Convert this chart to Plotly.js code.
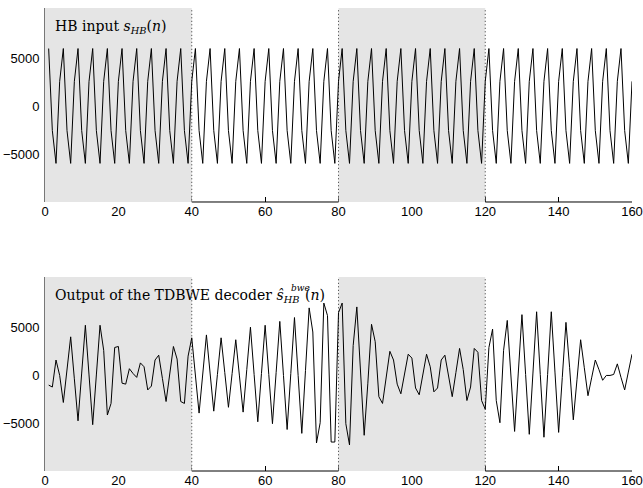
<!DOCTYPE html>
<html>
<head>
<meta charset="utf-8">
<script src="https://cdn.plot.ly/plotly-3.0.1.min.js"></script>
<style>html,body{margin:0;padding:0;background:#fff;}#chart{width:643px;height:488px;}</style>
</head>
<body>
<div id="chart"></div>
<script>
// HB input s_HB(n), n = 1..160
const inputHB = [
  6000,-2500,-5900,2600, 6000,-2500,-5900,2600, 6000,-2500,-5900,2600, 6000,-2500,-5900,2600, 6000,-2500,-5900,2600,
  6000,-2500,-5900,2600, 6000,-2500,-5900,2600, 6000,-2500,-5900,2600, 6000,-2500,-5900,2600, 6000,-2500,-5900,2600,
  6000,-2500,-5900,2600, 6000,-2500,-5900,2600, 6000,-2500,-5900,2600, 6000,-2500,-5900,2600, 6000,-2500,-5900,2600,
  6000,-2500,-5900,2600, 6000,-2500,-5900,2600, 6000,-2500,-5900,2600, 6000,-2500,-5900,2600, 6000,-2500,-5900,2600,
  6000,-2500,-5900,2600, 6000,-2500,-5900,2600, 6000,-2500,-5900,2600, 6000,-2500,-5900,2600, 6000,-2500,-5900,2600,
  6000,-2500,-5900,2600, 6000,-2500,-5900,2600, 6000,-2500,-5900,2600, 6000,-2500,-5900,2600, 6000,-2500,-5900,2600,
  6000,-2500,-5900,2600, 6000,-2500,-5900,2600, 6000,-2500,-5900,2600, 6000,-2500,-5900,2600, 6000,-2500,-5900,2600,
  6000,-2500,-5900,2600, 6000,-2500,-5900,2600, 6000,-2500,-5900,2600, 6000,-2500,-5900,2600, 6000,-2500,-5900,2600
];
// Output of the TDBWE decoder, n = 1..160
const outputTDBWE = [
  -1000,-1200,1600,0,-2800,600,4000,-350,-4700,250,
  5200,50,-5100,50,5200,2600,-4100,-2900,2900,3000,
  -800,-900,700,200,-200,1300,900,-1500,-1100,1600,
  2100,-300,-2700,150,3000,1700,-2700,-2900,2000,3900,
  0,-3900,150,4200,250,-3700,100,3900,300,-3300,
  200,3700,-50,-3800,600,5000,100,-4800,200,5200,
  100,-5000,300,5600,0,-5600,200,6000,0,-6000,
  500,7000,4500,-7000,-4900,7500,6200,-6900,-6900,6500,
  7500,-5000,-7200,3100,7100,450,-6200,-800,5300,3500,
  -2200,-2900,-200,2500,1600,-900,-1900,150,2200,1800,
  -1300,-2000,100,2200,900,-1700,-1300,1600,2100,-50,
  -2200,300,2800,600,-2600,-1200,2800,2400,-2600,-3500,
  2900,4800,-2600,-4900,2600,5700,-50,-5800,250,6300,
  100,-6100,250,6600,100,-6400,100,6600,350,-5900,
  -200,5500,800,-4600,-450,3700,800,-2100,-250,1600,
  600,-500,0,0,100,1200,-200,-1500,350,2200
];
const shadeStart = [0, 80];
const shadeEnd = [40, 120];
const xTicks = [0, 20, 40, 60, 80, 100, 120, 140, 160];
const yTicks = [-5000, 0, 5000];
const xRange = [0, 160];
const yRange = [-9900, 10200];

const n = inputHB.map((_, i) => i + 1);
const GREY = '#e5e5e5';

function shadeTraces(xa, ya) {
  const out = [];
  for (let i = 0; i < shadeStart.length; i++) {
    out.push({
      x: [shadeStart[i], shadeStart[i], shadeEnd[i], shadeEnd[i], shadeStart[i]],
      y: [yRange[0] - 2000, yRange[1] + 2000, yRange[1] + 2000, yRange[0] - 2000, yRange[0] - 2000],
      xaxis: xa, yaxis: ya, type: 'scatter', mode: 'lines', fill: 'toself',
      fillcolor: GREY, line: {width: 0}, hoverinfo: 'skip', showlegend: false
    });
  }
  // dotted edges of shaded blocks (except the one on the y axis)
  const ex = [], ey = [];
  const edges = shadeStart.concat(shadeEnd).filter(v => v !== xRange[0]);
  edges.forEach(v => { ex.push(v, v, null); ey.push(yRange[0] - 2000, yRange[1] + 2000, null); });
  out.push({x: ex, y: ey, xaxis: xa, yaxis: ya, type: 'scatter', mode: 'lines',
    line: {color: '#333', width: 1, dash: '1px,2.5px'}, hoverinfo: 'skip', showlegend: false});
  return out;
}

const data = [].concat(
  shadeTraces('x', 'y'),
  [{x: n, y: inputHB, xaxis: 'x', yaxis: 'y', type: 'scatter', mode: 'lines',
    line: {color: '#000', width: 1}, showlegend: false}],
  shadeTraces('x2', 'y2'),
  [{x: n, y: outputTDBWE, xaxis: 'x2', yaxis: 'y2', type: 'scatter', mode: 'lines',
    line: {color: '#000', width: 1}, showlegend: false}]
);

const tickFont = {family: 'Liberation Sans, Arial, sans-serif', size: 13, color: '#000'};
function xAxis(anchor) {
  return {anchor: anchor, range: xRange, tickvals: xTicks, ticktext: xTicks.map(String),
    ticks: 'inside', ticklen: 5, tickwidth: 1, tickcolor: '#000', showline: false,
    showgrid: false, zeroline: false, layer: 'below traces', tickfont: tickFont, automargin: false};
}
function yAxis(anchor, domain) {
  return {anchor: anchor, domain: domain, range: yRange, tickvals: yTicks,
    ticktext: yTicks.map(v => v < 0 ? '\u2212' + Math.abs(v) : String(v)),
    ticks: '', showline: true, linecolor: '#777', linewidth: 1, showgrid: false, zeroline: false,
    layer: 'above traces', tickfont: tickFont, automargin: false, ticklabelstandoff: 2};
}

const topDom = [0.581, 1];
const botDom = [0, 0.419];
const shapes = [];
[[topDom[0]], [botDom[0]]].forEach((d, k) => {
  const xr = k === 0 ? 'x' : 'x2';
  // visible x-axis baseline only in unshaded regions
  const whiteStart = [40, 120], whiteEnd = [80, 160];
  for (let i = 0; i < whiteStart.length; i++) {
    shapes.push({type: 'line', xref: xr, yref: 'paper', x0: whiteStart[i], x1: whiteEnd[i],
      y0: d[0], y1: d[0], line: {color: '#000', width: 1}, layer: 'above'});
  }
});

const serif = {family: 'DejaVu Serif, serif', size: 14, color: '#000'};
const layout = {
  width: 643, height: 488,
  margin: {l: 45, r: 11, t: 8, b: 17},
  paper_bgcolor: '#fff', plot_bgcolor: '#fff',
  showlegend: false,
  xaxis: xAxis('y'),
  yaxis: yAxis('x', topDom),
  xaxis2: xAxis('y2'),
  yaxis2: yAxis('x2', botDom),
  shapes: shapes,
  annotations: [
    {text: 'HB input <i>s</i><sub><i>HB</i></sub>(<i>n</i>)', xref: 'x domain', yref: 'y domain',
     x: 0.0136, y: 0.9, xanchor: 'left', yanchor: 'middle', showarrow: false, font: serif},
    {text: 'Output of the TDBWE decoder <i>\u015D</i><sub><i>HB</i></sub>\u2009\u2009(<i>n</i>)', xref: 'x2 domain', yref: 'y2 domain',
     x: 0.0136, y: 0.9, xanchor: 'left', yanchor: 'middle', showarrow: false, font: serif},
    {text: '<i>bwe</i>', xref: 'x2 domain', yref: 'y2 domain',
     x: 0.416, y: 0.945, xanchor: 'left', yanchor: 'middle', showarrow: false,
     font: {family: 'DejaVu Serif, serif', size: 9, color: '#000'}}
  ]
};

Plotly.newPlot('chart', data, layout, {staticPlot: true, displayModeBar: false});
</script>
</body>
</html>
